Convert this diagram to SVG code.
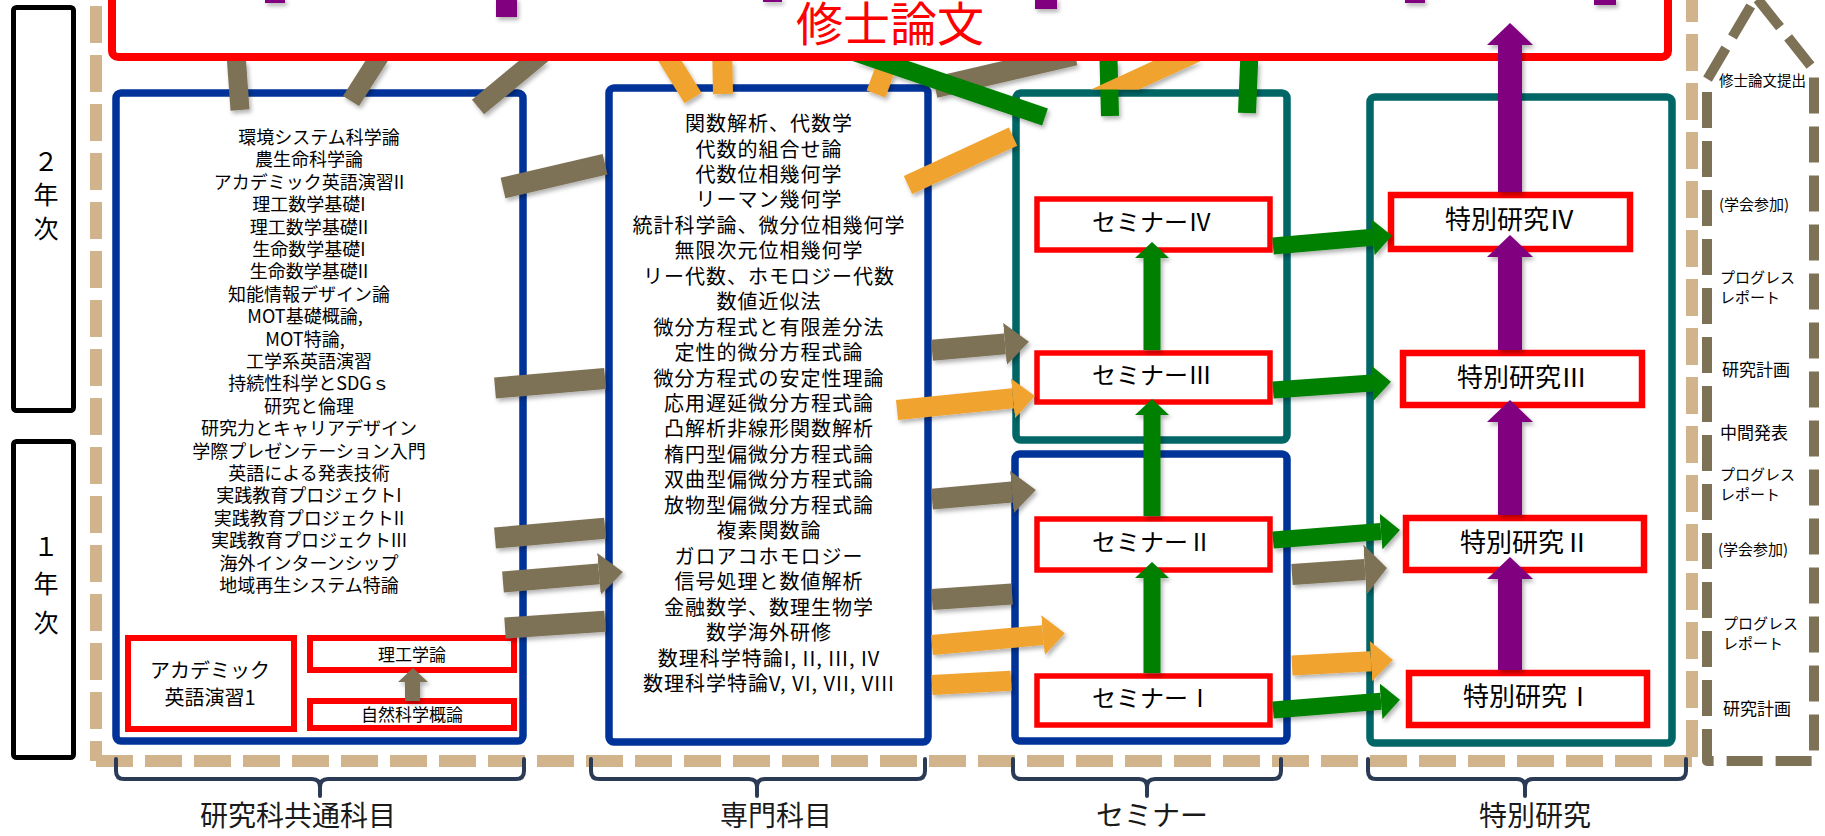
<svg xmlns="http://www.w3.org/2000/svg" width="1825" height="836" viewBox="0 0 1825 836">
<defs>
<style>
text{font-family:"Noto Sans CJK JP","Noto Sans",sans-serif;fill:#000}
.course{font-size:18px;text-anchor:middle}
.spec{font-size:20px;letter-spacing:1px;text-anchor:middle}
.semi{font-size:24px;text-anchor:middle}
.tok{font-size:26px;text-anchor:middle}
.side{font-size:15px}
.yr{font-size:25px;text-anchor:middle}
.lbl{font-size:28px;text-anchor:middle;fill:#1a1a1a}
.redn{fill:#fff;stroke:#ff0000;stroke-width:6}
.bluebox{fill:#fff;stroke:#003399;stroke-width:7.5}
.tealbox{fill:#fff;stroke:#006666;stroke-width:7.5}
.ol{stroke:#7E7256;stroke-width:21;fill:none}
.olt{stroke:#7E7256;stroke-width:19;fill:none}
.or{stroke:#F0A32F;stroke-width:20;fill:none}
.gr{stroke:#008000;stroke-width:17;fill:none}
.grt{stroke:#008000;stroke-width:18;fill:none}
.pu{stroke:#800080;stroke-width:24;fill:none}
.brace{fill:none;stroke:#2B3A55;stroke-width:4;stroke-linecap:round;stroke-linejoin:round}
.tan{fill:none;stroke:#D2B48C;stroke-width:12;stroke-dasharray:37 12}
</style>
<marker id="mOl" markerUnits="userSpaceOnUse" markerWidth="24" markerHeight="42" refX="0" refY="21" orient="auto"><path d="M0,0 L24,21 L0,42 Z" fill="#7E7256"/></marker>
<marker id="mOlB" markerUnits="userSpaceOnUse" markerWidth="22" markerHeight="50" refX="0" refY="25" orient="auto"><path d="M0,0 L22,25 L0,50 Z" fill="#7E7256"/></marker>
<marker id="mOr" markerUnits="userSpaceOnUse" markerWidth="22" markerHeight="40" refX="0" refY="20" orient="auto"><path d="M0,0 L22,20 L0,40 Z" fill="#F0A32F"/></marker>
<marker id="mGr" markerUnits="userSpaceOnUse" markerWidth="19" markerHeight="36" refX="0" refY="18" orient="auto"><path d="M0,0 L19,18 L0,36 Z" fill="#008000"/></marker>
<marker id="mGrV" markerUnits="userSpaceOnUse" markerWidth="16" markerHeight="34" refX="0" refY="17" orient="auto"><path d="M0,0 L16,17 L0,34 Z" fill="#008000"/></marker>
<marker id="mPu" markerUnits="userSpaceOnUse" markerWidth="22" markerHeight="46" refX="0" refY="23" orient="auto"><path d="M0,0 L22,23 L0,46 Z" fill="#800080"/></marker>
<clipPath id="clipTop"><rect x="0" y="61" width="1825" height="800"/></clipPath>
<filter id="sh" filterUnits="userSpaceOnUse" x="0" y="0" width="1825" height="836"><feDropShadow dx="2" dy="3" stdDeviation="2" flood-color="#000" flood-opacity="0.3"/></filter>
</defs>
<rect width="1825" height="836" fill="#fff"/>

<g id="frame">
<path class="tan" d="M96,6 V761"/>
<path class="tan" d="M96,761 H1692"/>
<path class="tan" d="M1692,-15 V761"/>
</g>

<g id="timeline">
<path d="M1707,761 V80 L1756,-3 L1814,70 V761 Z" fill="none" stroke="#7E7256" stroke-width="10" stroke-dasharray="36 13" stroke-dashoffset="4" stroke-linejoin="round"/>
<text x="1719" y="86" style="font-size:14.5px">修士論文提出</text>
<text class="side" x="1719" y="210">(学会参加)</text>
<text class="side" x="1720" y="283">プログレス</text>
<text class="side" x="1720" y="303">レポート</text>
<text x="1722" y="376" style="font-size:17px">研究計画</text>
<text x="1720" y="439" style="font-size:17px">中間発表</text>
<text class="side" x="1720" y="480">プログレス</text>
<text class="side" x="1720" y="500">レポート</text>
<text class="side" x="1718" y="555">(学会参加)</text>
<text class="side" x="1723" y="629">プログレス</text>
<text class="side" x="1723" y="649">レポート</text>
<text x="1723" y="715" style="font-size:17px">研究計画</text>
</g>

<g id="year2">
<rect x="13.5" y="7.5" width="60" height="403" rx="3" fill="#fff" stroke="#000" stroke-width="5"/>
<text class="yr" x="46" y="171">２</text>
<text class="yr" x="46" y="204">年</text>
<text class="yr" x="46" y="238">次</text>
</g>
<g id="year1">
<rect x="13.5" y="441.5" width="60" height="316" rx="3" fill="#fff" stroke="#000" stroke-width="5"/>
<text class="yr" x="46" y="556">１</text>
<text class="yr" x="46" y="593">年</text>
<text class="yr" x="46" y="632">次</text>
</g>

<g id="thesis">
<rect x="112" y="-40" width="1556" height="97" rx="6" fill="#fff" stroke="#ff0000" stroke-width="8"/>
<text x="890" y="41" style="font-size:47px;fill:#ff0000;text-anchor:middle">修士論文</text>
</g>

<g id="common">
<rect class="bluebox" x="116" y="93" width="407" height="648" rx="5"/>
<text class="course" x="319" y="144">環境システム科学論</text>
<text class="course" x="309" y="166.4">農生命科学論</text>
<text class="course" x="309" y="188.8">アカデミック英語演習II</text>
<text class="course" x="309" y="211.2">理工数学基礎I</text>
<text class="course" x="309" y="233.6">理工数学基礎II</text>
<text class="course" x="309" y="256">生命数学基礎I</text>
<text class="course" x="309" y="278.4">生命数学基礎II</text>
<text class="course" x="309" y="300.8">知能情報デザイン論</text>
<text class="course" x="305" y="323.2">MOT基礎概論,</text>
<text class="course" x="305" y="345.6">MOT特論,</text>
<text class="course" x="309" y="368">工学系英語演習</text>
<text class="course" x="309" y="390.4">持続性科学とSDGｓ</text>
<text class="course" x="309" y="412.8">研究と倫理</text>
<text class="course" x="309" y="435.2">研究力とキャリアデザイン</text>
<text class="course" x="309" y="457.6">学際プレゼンテーション入門</text>
<text class="course" x="309" y="480">英語による発表技術</text>
<text class="course" x="309" y="502.4">実践教育プロジェクトI</text>
<text class="course" x="309" y="524.8">実践教育プロジェクトII</text>
<text class="course" x="309" y="547.2">実践教育プロジェクトIII</text>
<text class="course" x="309" y="569.6">海外インターンシップ</text>
<text class="course" x="309" y="592">地域再生システム特論</text>
</g>
<g id="academic-english1">
<rect class="redn" x="128" y="638" width="166" height="91"/>
<text x="210" y="678" style="font-size:20px;text-anchor:middle">アカデミック</text>
<text x="210" y="705" style="font-size:20px;text-anchor:middle">英語演習1</text>
</g>
<g id="rikogakuron">
<rect class="redn" x="310" y="638" width="204" height="32"/>
<text x="412" y="661" style="font-size:17px;text-anchor:middle">理工学論</text>
</g>
<g id="shizenkagaku">
<rect class="redn" x="310" y="701" width="204" height="27"/>
<text x="412" y="721" style="font-size:17px;text-anchor:middle">自然科学概論</text>
</g>

<g id="senmon">
<rect class="bluebox" x="609" y="88" width="319" height="654" rx="5"/>
<text class="spec" x="769" y="131">関数解析、代数学</text>
<text class="spec" x="769" y="156.5">代数的組合せ論</text>
<text class="spec" x="769" y="181.9">代数位相幾何学</text>
<text class="spec" x="769" y="207.4">リーマン幾何学</text>
<text class="spec" x="769" y="232.8">統計科学論、微分位相幾何学</text>
<text class="spec" x="769" y="258.3">無限次元位相幾何学</text>
<text class="spec" x="769" y="283.7">リー代数、ホモロジー代数</text>
<text class="spec" x="769" y="309.2">数値近似法</text>
<text class="spec" x="769" y="334.6">微分方程式と有限差分法</text>
<text class="spec" x="769" y="360.1">定性的微分方程式論</text>
<text class="spec" x="769" y="385.5">微分方程式の安定性理論</text>
<text class="spec" x="769" y="411">応用遅延微分方程式論</text>
<text class="spec" x="769" y="436.4">凸解析非線形関数解析</text>
<text class="spec" x="769" y="461.9">楕円型偏微分方程式論</text>
<text class="spec" x="769" y="487.3">双曲型偏微分方程式論</text>
<text class="spec" x="769" y="512.8">放物型偏微分方程式論</text>
<text class="spec" x="769" y="538.2">複素関数論</text>
<text class="spec" x="769" y="563.7">ガロアコホモロジー</text>
<text class="spec" x="769" y="589.1">信号処理と数値解析</text>
<text class="spec" x="769" y="614.6">金融数学、数理生物学</text>
<text class="spec" x="769" y="640">数学海外研修</text>
<text class="spec" x="769" y="665.5">数理科学特論I, II, III, IV</text>
<text class="spec" x="769" y="690.9">数理科学特論V, VI, VII, VIII</text>
</g>

<g id="seminar-y2"><rect class="tealbox" x="1016" y="93" width="271" height="347" rx="5"/></g>
<g id="seminar-y1"><rect class="bluebox" x="1015" y="454" width="272" height="287" rx="5"/></g>
<g id="seminar4"><rect class="redn" x="1037" y="199" width="233" height="51" style="stroke-width:5.5"/><text class="semi" x="1152" y="231">セミナーⅣ</text></g>
<g id="seminar3"><rect class="redn" x="1037" y="353" width="233" height="49" style="stroke-width:5.5"/><text class="semi" x="1152" y="384">セミナーⅢ</text></g>
<g id="seminar2"><rect class="redn" x="1037" y="519" width="233" height="51" style="stroke-width:5.5"/><text class="semi" x="1152" y="551">セミナーⅡ</text></g>
<g id="seminar1"><rect class="redn" x="1037" y="676" width="233" height="49" style="stroke-width:5.5"/><text class="semi" x="1152" y="707">セミナーⅠ</text></g>

<g id="tokubetsu"><rect class="tealbox" x="1370" y="97" width="302" height="646" rx="5"/></g>
<g id="tokubetsu4"><rect class="redn" x="1391" y="195" width="239" height="54" style="stroke-width:6.5"/><text class="tok" x="1510" y="229">特別研究Ⅳ</text></g>
<g id="tokubetsu3"><rect class="redn" x="1403" y="353" width="239" height="52" style="stroke-width:6.5"/><text class="tok" x="1522" y="387">特別研究Ⅲ</text></g>
<g id="tokubetsu2"><rect class="redn" x="1406" y="518" width="238" height="52" style="stroke-width:6.5"/><text class="tok" x="1525" y="552">特別研究Ⅱ</text></g>
<g id="tokubetsu1"><rect class="redn" x="1409" y="673" width="238" height="52" style="stroke-width:6.5"/><text class="tok" x="1528" y="706">特別研究Ⅰ</text></g>

<g id="connectors" filter="url(#sh)">
<g clip-path="url(#clipTop)">
<path class="olt" d="M240,110 L235,40"/>
<path class="olt" d="M351,101 L390,40"/>
<path class="olt" d="M478,107 L559,40"/>
<path class="ol" d="M935,87.5 L1075,54.9"/>
<path class="or" d="M693,98 L657,40"/>
<path class="or" d="M723,94 L722,40"/>
<path class="or" d="M876,94 L896,40"/>
<path class="grt" d="M1045,117 L848,50"/>
<path class="grt" d="M1110,116 L1108,40"/>
<path class="grt" d="M1247,113 L1250,40"/>
</g>
<path class="ol" d="M503,188 L605,164.2"/>
<path class="or" d="M908,185 L1013,136.6"/>
<polygon points="1091,89.5 1139,89.5 1201,61 1153,61" fill="#F0A32F"/>
<path class="ol" d="M495,388 L605,378.5"/>
<path class="ol" d="M932,350.2 L1005,343.9" marker-end="url(#mOl)"/>
<path class="ol" d="M495,538 L605,528.2"/>
<path class="ol" d="M932,499.1 L1012,492" marker-end="url(#mOl)"/>
<path class="ol" d="M503,582 L599,573.9" marker-end="url(#mOl)"/>
<path class="ol" d="M505,628 L605,621.2"/>
<path class="ol" d="M932,599.4 L1012,594"/>
<path class="ol" d="M1292,574.4 L1365,569.5" marker-end="url(#mOlB)"/>
<path class="or" d="M897,410 L1013,398.3" marker-end="url(#mOr)"/>
<path class="or" d="M932,645 L1043,635.1" marker-end="url(#mOr)"/>
<path class="or" d="M932,685 L1011,680.7"/>
<path class="or" d="M1292,665.5 L1371,661.2" marker-end="url(#mOr)"/>
<path class="gr" d="M1273,246 L1373,237.3" marker-end="url(#mGr)"/>
<path class="gr" d="M1273,390 L1372,383" marker-end="url(#mGr)"/>
<path class="gr" d="M1273,540 L1381,531.5" marker-end="url(#mGr)"/>
<path class="gr" d="M1273,710 L1381,701.2" marker-end="url(#mGr)"/>
<path class="gr" d="M1152,350 L1152,258" marker-end="url(#mGrV)"/>
<path class="gr" d="M1152,516 L1152,415" marker-end="url(#mGrV)"/>
<path class="gr" d="M1152,673 L1152,578" marker-end="url(#mGrV)"/>
<path class="pu" d="M1510,192 L1510,45" marker-end="url(#mPu)"/>
<path class="pu" d="M1510,350 L1510,257" marker-end="url(#mPu)"/>
<path class="pu" d="M1510,515 L1510,422" marker-end="url(#mPu)"/>
<path class="pu" d="M1510,670 L1510,579" marker-end="url(#mPu)"/>
<g fill="#800080">
<rect x="265" y="-2" width="20" height="5"/>
<rect x="496" y="-2" width="21" height="19"/>
<rect x="763" y="-2" width="19" height="4"/>
<rect x="1035" y="-2" width="22" height="11"/>
<rect x="1405" y="-2" width="20" height="5"/>
<rect x="1594" y="-2" width="22" height="7"/>
</g>
<path d="M405,701 V682 H398 L413,668 L428,682 H420 V701 Z" fill="#7E7256"/>
</g>

<g id="braces">
<path class="brace" d="M116,759 V771 Q116,779 124,779 H312 Q320,779 320,787 V796 M320,787 Q320,779 328,779 H516 Q524,779 524,771 V759"/>
<path class="brace" d="M591,759 V771 Q591,779 599,779 H749 Q757,779 757,787 V796 M757,787 Q757,779 765,779 H917 Q925,779 925,771 V759"/>
<path class="brace" d="M1013,759 V771 Q1013,779 1021,779 H1139 Q1147,779 1147,787 V796 M1147,787 Q1147,779 1155,779 H1273 Q1281,779 1281,771 V759"/>
<path class="brace" d="M1368,759 V771 Q1368,779 1376,779 H1517 Q1525,779 1525,787 V796 M1525,787 Q1525,779 1533,779 H1678 Q1686,779 1686,771 V759"/>
<text class="lbl" x="298" y="826">研究科共通科目</text>
<text class="lbl" x="776" y="826">専門科目</text>
<text class="lbl" x="1152" y="826">セミナー</text>
<text class="lbl" x="1535" y="826">特別研究</text>
</g>
</svg>
